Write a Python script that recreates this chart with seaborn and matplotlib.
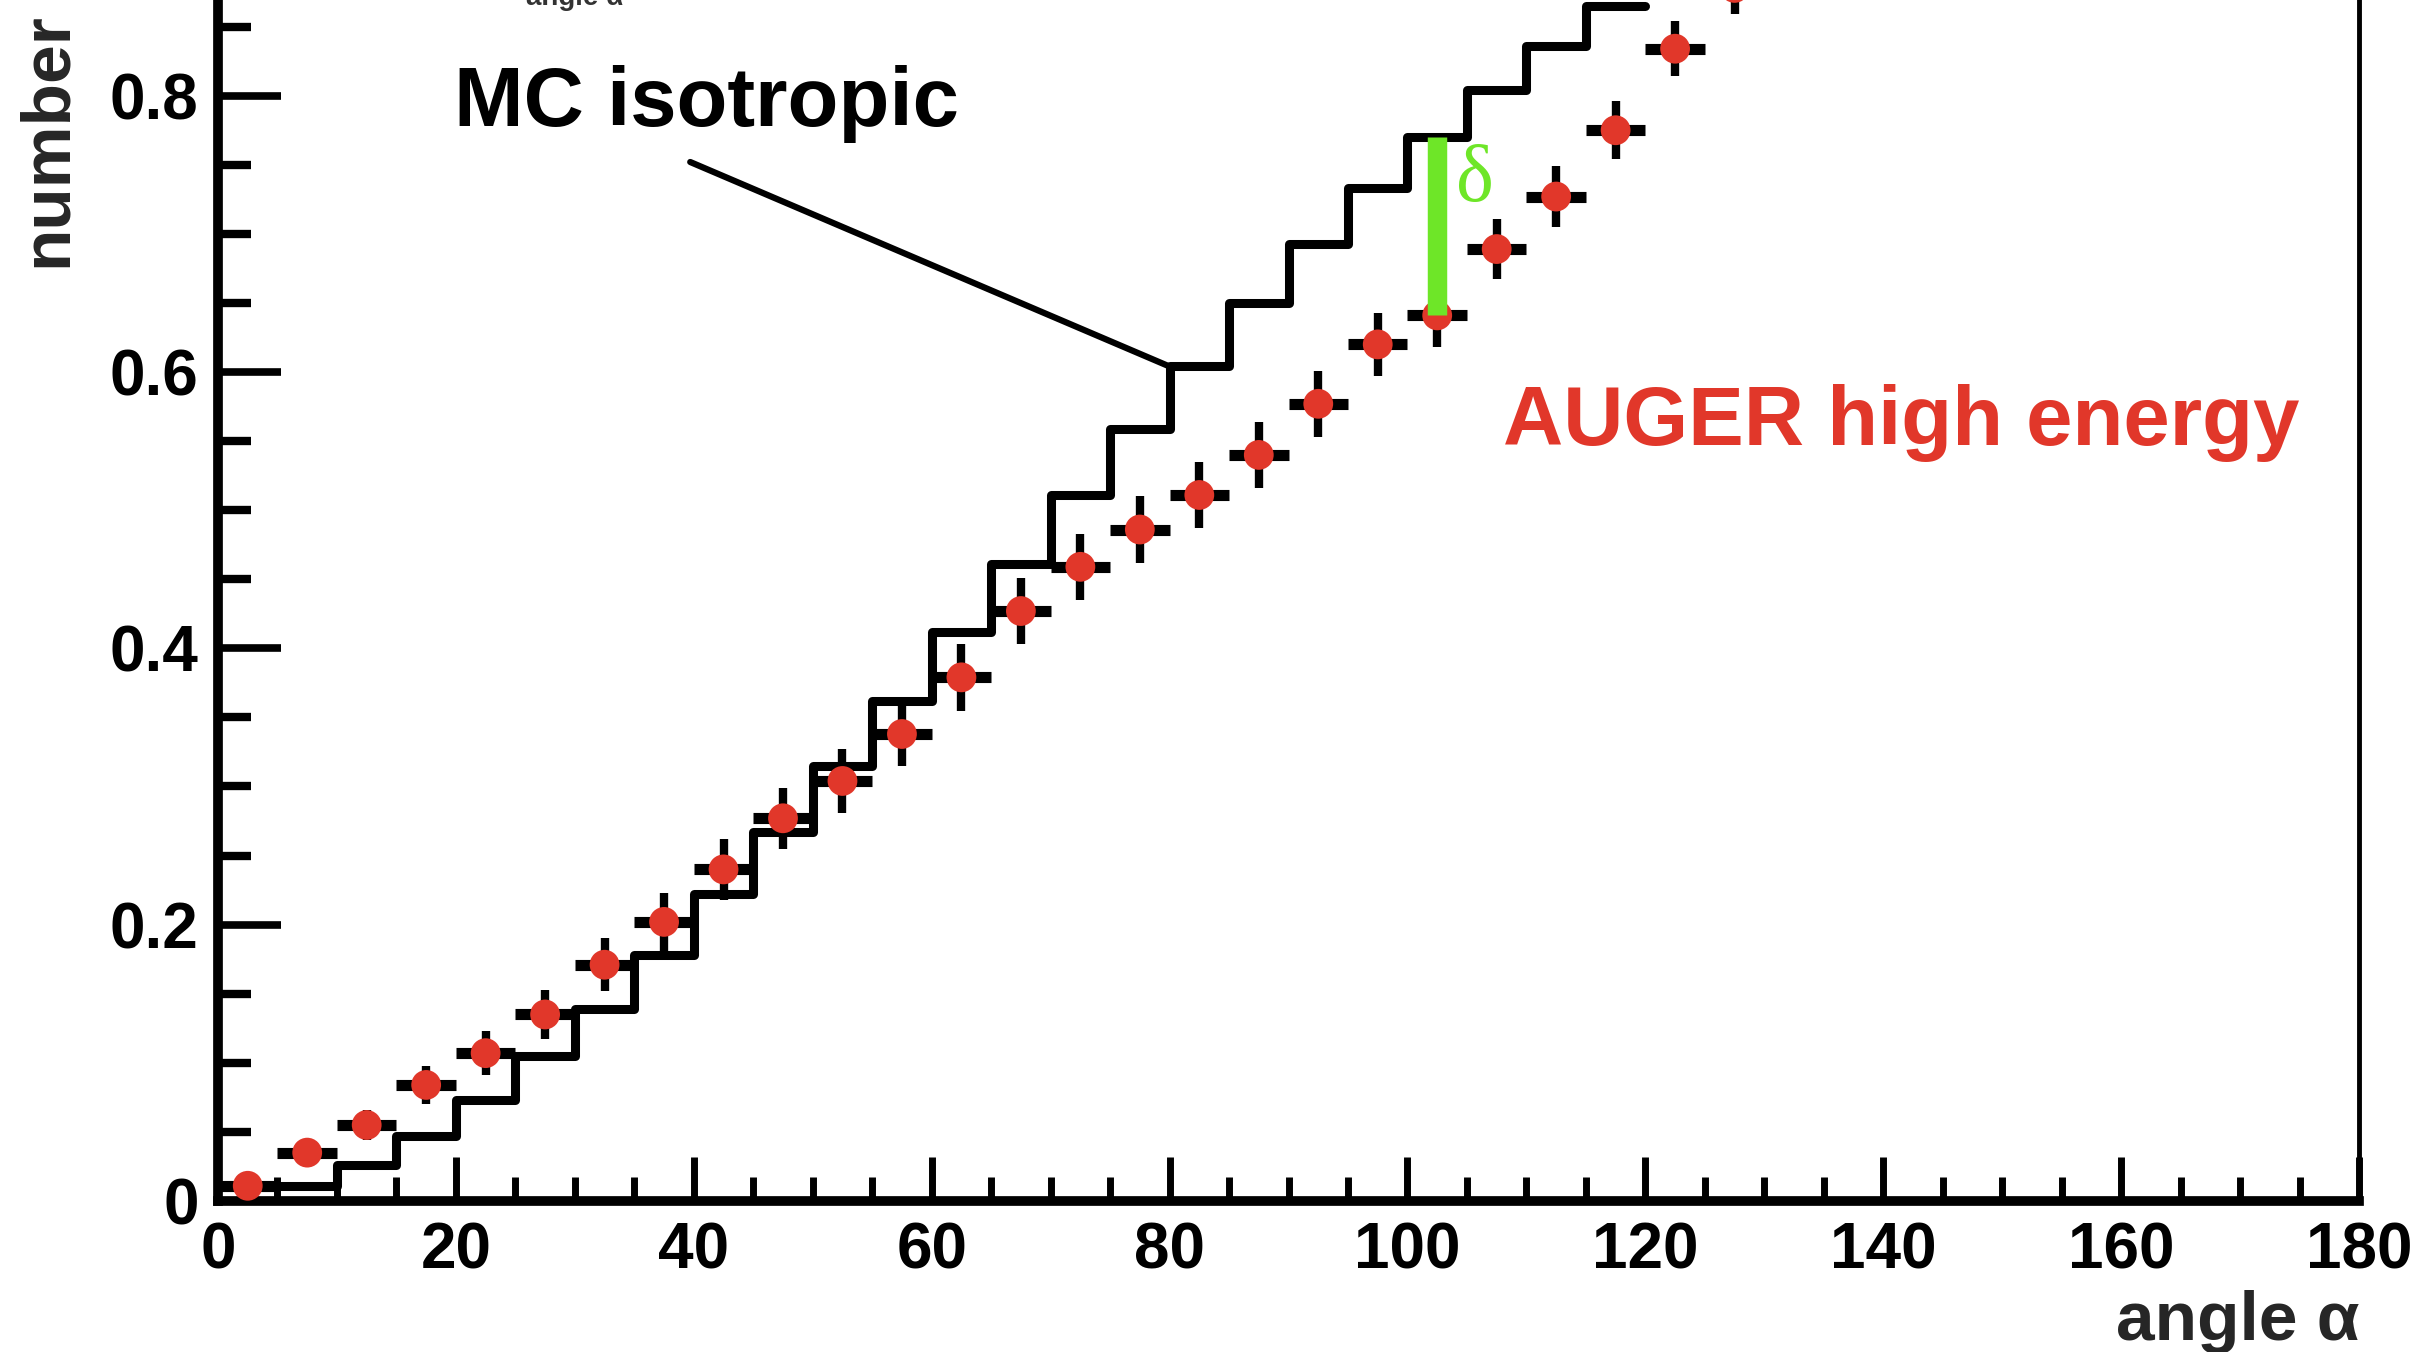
import numpy as np
import pandas as pd
import matplotlib
matplotlib.use("Agg")
import matplotlib.pyplot as plt
import seaborn as sns
from matplotlib.ticker import MultipleLocator, FuncFormatter

# ---------------- data ----------------
mc_bin_edges = [0, 5, 10, 15, 20, 25, 30, 35, 40, 45, 50, 55, 60, 65, 70, 75,
                80, 85, 90, 95, 100, 105, 110, 115, 120]
mc_isotropic = [0.010, 0.011, 0.026, 0.047, 0.073, 0.105, 0.139, 0.178, 0.222,
                0.267, 0.315, 0.362, 0.412, 0.461, 0.511, 0.559, 0.604, 0.650,
                0.693, 0.733, 0.770, 0.804, 0.836, 0.865]

auger_angle = [2.5, 7.5, 12.5, 17.5, 22.5, 27.5, 32.5, 37.5, 42.5, 47.5, 52.5,
               57.5, 62.5, 67.5, 72.5, 77.5, 82.5, 87.5, 92.5, 97.5, 102.5,
               107.5, 112.5, 117.5, 122.5, 127.5]
auger_high_energy = [0.011, 0.035, 0.055, 0.084, 0.107, 0.135, 0.171, 0.202,
                     0.240, 0.277, 0.304, 0.338, 0.379, 0.427, 0.459, 0.486,
                     0.511, 0.540, 0.577, 0.620, 0.641, 0.689, 0.727, 0.775,
                     0.834, 0.878]
auger_err = [0.005, 0.008, 0.011, 0.014, 0.016, 0.018, 0.019, 0.021, 0.022,
             0.022, 0.023, 0.023, 0.024, 0.024, 0.024, 0.024, 0.024, 0.024,
             0.024, 0.023, 0.023, 0.022, 0.022, 0.021, 0.020, 0.019]
bin_half_width = 2.5

delta_angle = 102.5

x_ticks_major = [0, 20, 40, 60, 80, 100, 120, 140, 160, 180]
y_ticks_major = [0, 0.2, 0.4, 0.6, 0.8]

RED = "#e1372a"
GREEN = "#6ee628"

# ---------------- style ----------------
sns.set_theme(style="white")
plt.rcParams["font.family"] = ["Liberation Sans", "DejaVu Sans"]
plt.rcParams["font.weight"] = "bold"
plt.rcParams["axes.labelweight"] = "bold"

fig = plt.figure(figsize=(24.25, 13.52), dpi=100)
fig.patch.set_facecolor("white")
ax = fig.add_axes([0.0899, 0.1117, 0.8829, 1.0219])
ax.set_facecolor("white")

# MC isotropic step histogram
df_mc = pd.DataFrame({
    "angle": mc_bin_edges,
    "number": mc_isotropic + [mc_isotropic[-1]],
})
sns.lineplot(data=df_mc, x="angle", y="number", drawstyle="steps-post",
             color="black", linewidth=6.5, estimator=None, ax=ax, zorder=2)

# AUGER points with error bars
ax.errorbar(auger_angle, auger_high_energy, xerr=bin_half_width, fmt="none",
            ecolor="black", elinewidth=8, capsize=0, zorder=3)
ax.errorbar(auger_angle, auger_high_energy, yerr=auger_err, fmt="none",
            ecolor="black", elinewidth=6, capsize=0, zorder=3)
df_auger = pd.DataFrame({"angle": auger_angle, "number": auger_high_energy})
sns.scatterplot(data=df_auger, x="angle", y="number", color=RED, s=460,
                edgecolor="none", linewidth=0, zorder=4, ax=ax)

# delta bar
i_d = auger_angle.index(delta_angle)
mc_at_delta = mc_isotropic[mc_bin_edges.index(delta_angle - bin_half_width)]
ax.vlines(delta_angle, auger_high_energy[i_d], mc_at_delta, color=GREEN,
          linewidth=14, zorder=5)
ax.text(delta_angle + 1.6, 0.724, "δ", color=GREEN, fontsize=58,
        fontweight="normal", family=["Liberation Serif", "DejaVu Serif"],
        ha="left", va="baseline", zorder=6)

# annotations
ax.text(19.8, 0.778, "MC isotropic", fontsize=60, fontweight="bold",
        color="black", ha="left", va="baseline")
ax.annotate("", xy=(80, mc_isotropic[mc_bin_edges.index(80)]),
            xytext=(39.7, 0.752),
            arrowprops=dict(arrowstyle="-", color="black", lw=4.5,
                            shrinkA=0, shrinkB=0))
ax.text(108.0, 0.5475, "AUGER high energy", fontsize=60, fontweight="bold",
        color=RED, ha="left", va="baseline")

# axes
ax.set_xlim(0, 180)
ax.set_ylim(0, 1.0)
ax.set_xticks(x_ticks_major)
ax.set_yticks(y_ticks_major)
ax.xaxis.set_minor_locator(MultipleLocator(5))
ax.yaxis.set_minor_locator(MultipleLocator(0.05))
ax.xaxis.set_major_formatter(FuncFormatter(lambda v, p: f"{v:.0f}"))
ax.yaxis.set_major_formatter(FuncFormatter(lambda v, p: "0" if v == 0 else f"{v:.1f}"))

ax.tick_params(axis="x", which="major", direction="in", length=32, width=5,
               labelsize=46, pad=15, color="black", labelcolor="black",
               bottom=True, top=False)
ax.tick_params(axis="x", which="minor", direction="in", length=17, width=5,
               color="black", bottom=True, top=False)
ax.tick_params(axis="y", which="major", direction="in", length=45, width=5.5,
               labelsize=46, pad=14, color="black", labelcolor="black",
               left=True, right=False)
ax.tick_params(axis="y", which="minor", direction="in", length=24, width=6,
               color="black", left=True, right=False)

for s in ["left", "bottom"]:
    ax.spines[s].set_linewidth(7)
    ax.spines[s].set_color("black")
ax.spines["right"].set_linewidth(3.5)
ax.spines["right"].set_color("black")
ax.spines["top"].set_visible(False)

ax.set_xlabel("angle α", fontsize=50, fontweight="bold", loc="right")
ax.xaxis.set_label_coords(1.0, -0.0644)
ax.set_ylabel("number", fontsize=50, fontweight="bold", loc="top")
ax.yaxis.set_label_coords(-0.0645, 0.8606)

# tiny cut-off label from a panel above
fig.text(0.237, 0.9963, "angle α", fontsize=20, fontweight="bold",
         color="#333333", ha="center", va="baseline")

fig.savefig("out.png", dpi=100, facecolor="white")
